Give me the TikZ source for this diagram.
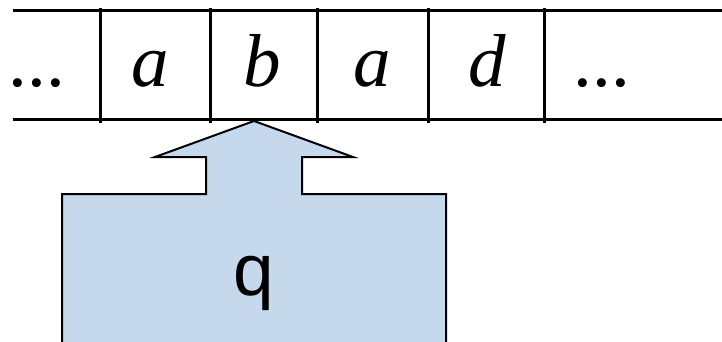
\documentclass[tikz,border=0pt]{standalone}
\usepackage{fontspec}
\setmainfont{Liberation Serif}
\newfontfamily\qfont{Liberation Sans}
\definecolor{headfill}{RGB}{197,216,236}
\begin{document}
\begin{tikzpicture}[x=1pt,y=-1pt,
  tapeline/.style={line width=3pt},
  cellsym/.style={inner sep=0pt, anchor=base, font=\fontsize{75}{75}\selectfont\itshape},
  dotsym/.style={inner sep=0pt, anchor=base, font=\fontsize{75}{75}\selectfont},
  headshape/.style={draw=black, line width=2pt, fill=headfill, line join=miter}]
\useasboundingbox (0,0) rectangle (722,342);
\clip (0,0) rectangle (722,342);
% head (arrow + box)
\draw[headshape] (254,121) -- (353,157) -- (302,157) -- (302,194) -- (446,194) -- (446,360)
  -- (62,360) -- (62,194) -- (206,194) -- (206,157) -- (155,157) -- cycle;
\node[inner sep=0pt, anchor=base, font=\qfont\fontsize{73}{73}\selectfont] (q) at (254,295) {q};
% tape
\coordinate (tl) at (13,11);
\coordinate (tr) at (722,11);
\coordinate (bl) at (13,120);
\coordinate (br) at (722,120);
\draw[tapeline] (tl) -- (tr);
\draw[tapeline] (bl) -- (br);
\foreach \x/\n in {100/v1,210/v2,317/v3,428/v4,544/v5}{
  \coordinate (\n t) at (\x,8);
  \coordinate (\n b) at (\x,123);
  \draw[tapeline] (\n t) -- (\n b);
}
\node[dotsym] (d1) at (37,87) {...};
\node[cellsym] (c1) at (150,87) {a};
\node[cellsym] (c2) at (262,87) {b};
\node[cellsym] (c3) at (372,87) {a};
\node[cellsym] (c4) at (487,87) {d};
\node[dotsym] (d2) at (602,87) {...};
\end{tikzpicture}
\end{document}
